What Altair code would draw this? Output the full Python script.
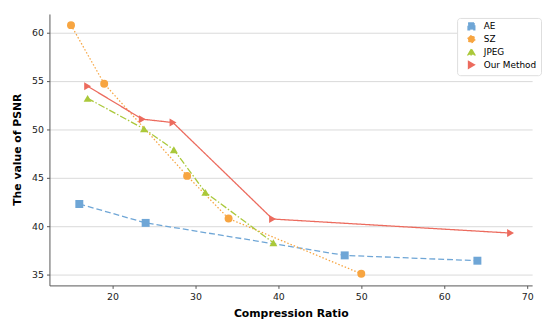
import altair as alt
import pandas as pd

series_names = ["AE", "SZ", "JPEG", "Our Method"]
colors = ["#6fa6d6", "#f7a541", "#aac83a", "#ec6b5e"]
shapes = ["square", "circle", "triangle-up", "triangle-right"]
dashes = [[6, 3], [1.5, 2], [7, 2, 1.5, 2], [1, 0]]

ae_x = [16, 24, 48, 64]
ae_y = [42.3, 40.35, 37.0, 36.45]
sz_x = [15, 19, 29, 34, 50]
sz_y = [60.75, 54.7, 45.2, 40.8, 35.1]
jpeg_x = [17, 23.8, 27.4, 31.2, 39.4]
jpeg_y = [53.2, 50.05, 47.9, 43.5, 38.3]
ours_x = [17, 23.6, 27.3, 39.3, 68]
ours_y = [54.45, 51.05, 50.7, 40.75, 39.3]

rows = []
for name, xs, ys in [("AE", ae_x, ae_y), ("SZ", sz_x, sz_y),
                     ("JPEG", jpeg_x, jpeg_y), ("Our Method", ours_x, ours_y)]:
    for i, (x, y) in enumerate(zip(xs, ys)):
        rows.append({"series": name, "x": x, "y": y, "order": i})
df = pd.DataFrame(rows)

xscale = alt.Scale(domain=[12.4, 70.6], nice=False, zero=False)
yscale = alt.Scale(domain=[33.9, 61.9], nice=False, zero=False)

xaxis = alt.Axis(title="Compression Ratio", values=[20, 30, 40, 50, 60, 70], grid=False,
                 titleFontWeight="bold", titleFontSize=11, titleY=22, titleBaseline="top",
                 labelFontSize=9.5, tickSize=3, labelPadding=3)
yaxis = alt.Axis(title="The value of PSNR", values=[35, 40, 45, 50, 55, 60], grid=True,
                 gridColor="#d9d9d9", gridWidth=1,
                 titleFontWeight="bold", titleFontSize=11, titleX=-27, titleY=137,
                 titleAlign="center", titleBaseline="bottom",
                 labelFontSize=9.5, tickSize=3, labelPadding=3)

color = alt.Color("series:N", scale=alt.Scale(domain=series_names, range=colors),
                  title=None, sort=series_names,
                  legend=alt.Legend(orient="none", legendX=413, legendY=4,
                                    fillColor="white", strokeColor="#dddddd",
                                    padding=4, cornerRadius=3, labelFontSize=9,
                                    symbolSize=45, rowPadding=0, symbolOffset=6,
                                    labelOffset=8))
shape = alt.Shape("series:N", scale=alt.Scale(domain=series_names, range=shapes),
                  title=None, sort=series_names)

base = alt.Chart(df).encode(
    x=alt.X("x:Q", scale=xscale, axis=xaxis),
    y=alt.Y("y:Q", scale=yscale, axis=yaxis),
    color=color,
)

lines = base.mark_line(strokeWidth=1.3).encode(
    strokeDash=alt.StrokeDash("series:N", scale=alt.Scale(domain=series_names, range=dashes),
                              legend=None),
    order="order:Q",
    detail="series:N",
)
points = base.mark_point(filled=True, opacity=1, size=65).encode(shape=shape)

chart = alt.layer(lines, points).properties(
    width=489, height=275,
    autosize=alt.AutoSizeParams(type="none"),
    padding={"left": 42, "top": 4, "right": 10, "bottom": 36},
).configure_axis(
    domainColor="#555555", tickColor="#555555", labelColor="#222222",
    titleColor="#000000", labelFont="DejaVu Sans", titleFont="DejaVu Sans",
).configure_legend(labelFont="DejaVu Sans").configure_view(stroke=None)

chart.save("out.html", embed_options={"renderer": "svg", "actions": False})
